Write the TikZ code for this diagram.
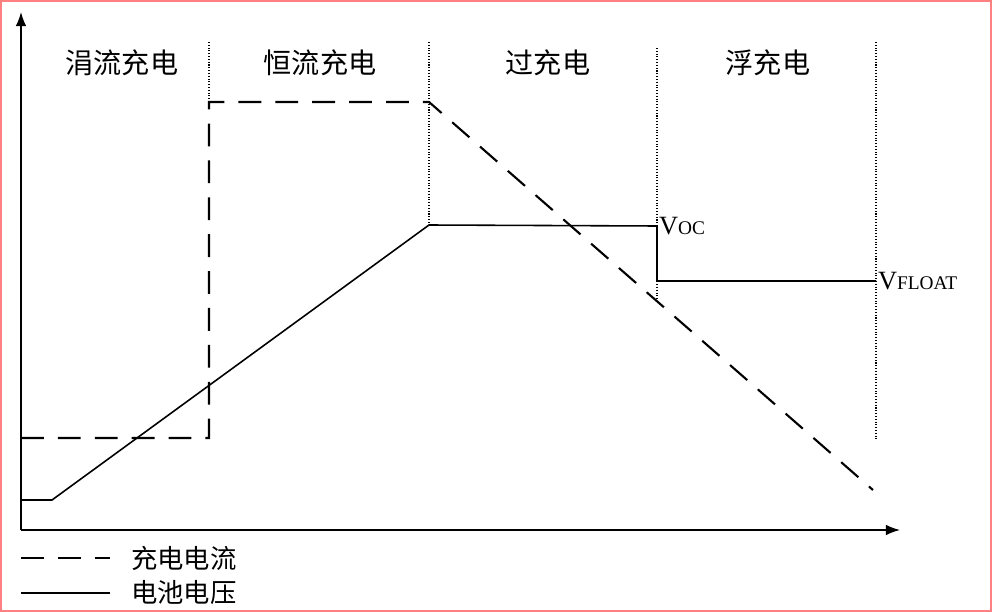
\documentclass[tikz,border=0pt]{standalone}
\usepackage{fontspec}
\setmainfont{Liberation Serif}
\newfontfamily\cjk{Noto Sans CJK SC}
\usetikzlibrary{arrows.meta}

\tikzset{
  stagelbl/.style={font=\cjk\fontsize{16}{16}\selectfont},
  legendlbl/.style={font=\cjk\fontsize{15}{15}\selectfont,anchor=west},
  voltlbl/.style={font=\fontsize{15}{15}\selectfont,anchor=west,inner sep=1pt},
  stageline/.style={densely dotted,line width=0.6pt},
  currentline/.style={dashed,dash pattern=on 13pt off 8pt,line width=1.2pt},
  voltline/.style={line width=0.9pt}
}

\begin{document}
\begin{tikzpicture}[x=0.02cm,y=-0.02cm,>={Latex[length=8pt,width=6pt]}]
\useasboundingbox (0,0) rectangle (992,612);
\draw[red!50,line width=0.6pt] (1,1) rectangle (991,611);

%axes
\coordinate (o) at (21,530);
\coordinate (ytop) at (21,12);
\coordinate (xend) at (900,530);
\draw[->,line width=0.8pt] (o)--(ytop);
\draw[->,line width=0.8pt] (o)--(xend);

%stages
\draw[stageline] (209,42)--(209,100);
\draw[stageline] (429,42)--(429,225);
\draw[stageline] (657,48)--(657,300);
\draw[stageline] (876,42)--(876,440);
\node[stagelbl] (s1) at (122,63) {涓流充电};
\node[stagelbl] (s2) at (320,63) {恒流充电};
\node[stagelbl] (s3) at (548,63) {过充电};
\node[stagelbl] (s4) at (768,63) {浮充电};

%current
\draw[currentline] (21,438)--(209,438)--(209,102)--(429,102)--(873,490);

%voltage
\coordinate (voc) at (657,226);
\coordinate (vfl) at (876,281);
\draw[voltline] (21,500)--(52,500)--(429,225)--(voc)--(657,281)--(vfl);
\node[voltlbl] (lvoc) at (voc) {V{\fontsize{11}{11}\selectfont OC}};
\node[voltlbl] (lvfl) at (vfl) {V{\fontsize{11}{11}\selectfont FLOAT}};

%legend
\coordinate (la) at (21,558);
\coordinate (lb) at (110,558);
\coordinate (lc) at (21,593);
\coordinate (ld) at (110,593);
\draw[currentline] (la)--(lb);
\draw[voltline] (lc)--(ld);
\node[legendlbl] (t1) at (125,558) {充电电流};
\node[legendlbl] (t2) at (125,593) {电池电压};
\end{tikzpicture}
\end{document}
